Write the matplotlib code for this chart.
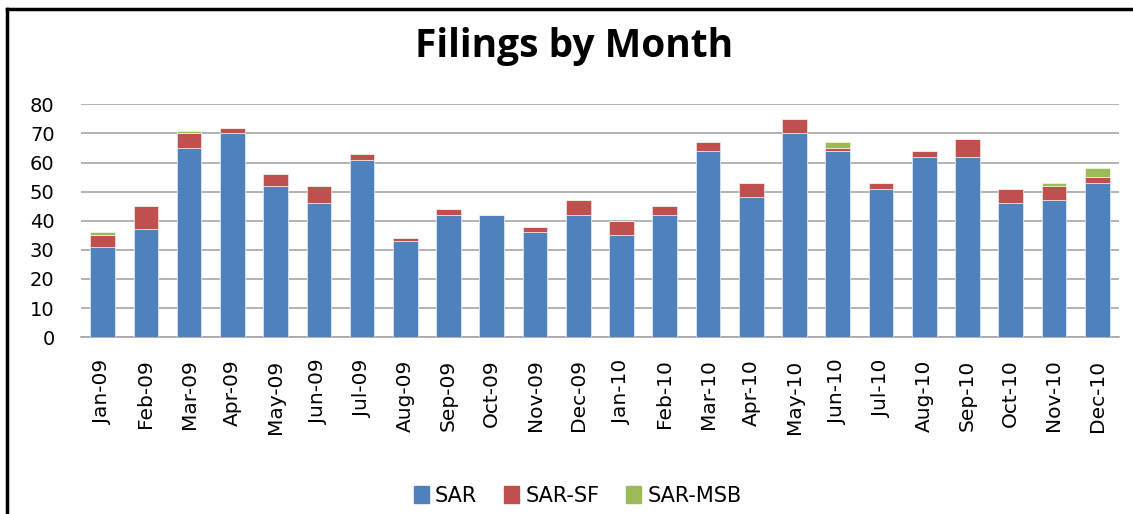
import matplotlib.pyplot as plt
import numpy as np
from matplotlib.patches import Rectangle
from matplotlib.lines import Line2D

months = ['Jan-09', 'Feb-09', 'Mar-09', 'Apr-09', 'May-09', 'Jun-09',
          'Jul-09', 'Aug-09', 'Sep-09', 'Oct-09', 'Nov-09', 'Dec-09',
          'Jan-10', 'Feb-10', 'Mar-10', 'Apr-10', 'May-10', 'Jun-10',
          'Jul-10', 'Aug-10', 'Sep-10', 'Oct-10', 'Nov-10', 'Dec-10']
sar = [31, 37, 65, 70, 52, 46, 61, 33, 42, 42, 36, 42,
       35, 42, 64, 48, 70, 64, 51, 62, 62, 46, 47, 53]
sar_sf = [4, 8, 5, 2, 4, 6, 2, 1, 2, 0, 2, 5,
          5, 3, 3, 5, 5, 1, 2, 2, 6, 5, 5, 2]
sar_msb = [1, 0, 1, 0, 0, 0, 0, 0, 0, 0, 0, 0,
           0, 0, 0, 0, 0, 2, 0, 0, 0, 0, 1, 3]

colors = ['#4F81BD', '#C0504D', '#9BBB59']

fig = plt.figure(figsize=(11.33, 5.14), dpi=100)
ax = fig.add_axes([0.0715, 0.344, 0.916, 0.453])

x = np.arange(len(months))
w = 0.57
b1 = np.array(sar)
b2 = b1 + np.array(sar_sf)
ax.bar(x, sar, w, color=colors[0], edgecolor='#dce6f2', linewidth=0.6, zorder=3, label='SAR')
ax.bar(x, sar_sf, w, bottom=b1, color=colors[1], edgecolor='#f2dcdb', linewidth=0.6, zorder=3, label='SAR-SF')
ax.bar(x, sar_msb, w, bottom=b2, color=colors[2], edgecolor='#ebf1de', linewidth=0.6, zorder=3, label='SAR-MSB')

ax.set_xlim(-0.5, len(months) - 0.5)
ax.set_ylim(0, 80)
ax.set_yticks(range(0, 81, 10))
ax.yaxis.grid(True, color='#a6a6a6', linewidth=1.2, zorder=0)
for s in ['top', 'right', 'left']:
    ax.spines[s].set_visible(False)
ax.spines['bottom'].set_color('#a6a6a6')
ax.spines['bottom'].set_linewidth(1.2)
ax.tick_params(axis='both', length=0, colors='black')
ax.tick_params(axis='y', pad=19, labelsize=14)
ax.tick_params(axis='x', pad=16, labelsize=14.5)
ax.set_xticks(x)
ax.set_xticklabels(months, rotation=90)

fig.text(0.507, 0.91, 'Filings by Month', ha='center', va='center',
         fontsize=28, fontweight='bold', family='Open Sans')

handles = [Rectangle((0, 0), 1, 1, color=c) for c in colors]
fig.legend(handles, ['SAR', 'SAR-SF', 'SAR-MSB'], loc='center',
           bbox_to_anchor=(0.51, 0.035), ncol=3, frameon=False,
           prop={'family': ['Liberation Sans Narrow', 'DejaVu Sans'], 'size': 15},
           handlelength=0.7, handleheight=0.9,
           handletextpad=0.3, columnspacing=1.3)

# outer chart frame (only left and top visible in the crop)
fig.add_artist(Line2D([0.006, 0.006], [0, 0.983], color='black', linewidth=2.5))
fig.add_artist(Line2D([0.006, 1.0], [0.983, 0.983], color='black', linewidth=2.5))

fig.savefig('out.png', dpi=100)
